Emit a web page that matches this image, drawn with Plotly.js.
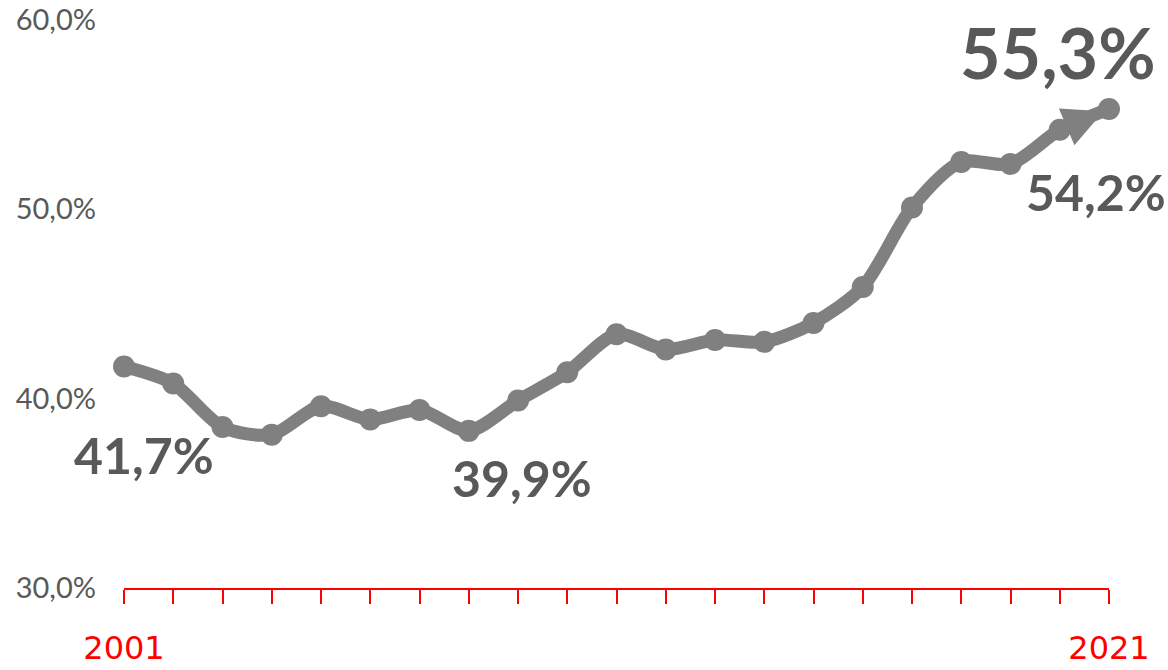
<!DOCTYPE html>
<html>
<head>
<meta charset="utf-8">
<script src="https://cdn.plot.ly/plotly-3.0.1.min.js"></script>
<style>
  html, body { margin: 0; padding: 0; background: #ffffff; }
  #chart { width: 1168px; height: 670px; }
</style>
</head>
<body>
<div id="chart"></div>
<script>
// ---- data ----
var years = [2001, 2002, 2003, 2004, 2005, 2006, 2007, 2008, 2009, 2010,
             2011, 2012, 2013, 2014, 2015, 2016, 2017, 2018, 2019, 2020, 2021];
var values = [41.7, 40.8, 38.5, 38.1, 39.6, 38.9, 39.4, 38.3, 39.9, 41.4,
              43.4, 42.6, 43.1, 43.0, 44.0, 45.9, 50.1, 52.5, 52.4, 54.2, 55.3];
var xTickVals = years;
var xTickText = ['2001', '', '', '', '', '', '', '', '', '', '', '', '', '', '', '', '', '', '', '', '2021'];
var yTickVals = [30, 40, 50, 60];
var yTickText = ['30,0%', '40,0%', '50,0%', '60,0%'];
var labelYears = [2001, 2009, 2020, 2021];
var labelTexts = ['41,7%', '39,9%', '54,2%', '55,3%'];

// ---- styling for labels (positions are offsets from the data point) ----
var labelStyle = [
  {dx: 20, dy: -89, size: 50},
  {dx: 4, dy: -77, size: 50},
  {dx: 36, dy: -62, size: 50},
  {dx: -51, dy: 57, size: 70}
];

var grey = '#808080';
var labelColor = '#595959';

function valueOf(yr) { return values[years.indexOf(yr)]; }

var annotations = labelYears.map(function (yr, i) {
  return {
    x: yr, y: valueOf(yr), xref: 'x', yref: 'y',
    text: '<b>' + labelTexts[i] + '</b>',
    showarrow: false,
    xshift: labelStyle[i].dx, yshift: labelStyle[i].dy,
    font: {family: 'Lato, "Open Sans", sans-serif', size: labelStyle[i].size, color: labelColor}
  };
});

// arrow head pointing to the last value
var n = years.length;
annotations.push({
  x: years[n - 1], y: values[n - 1], xref: 'x', yref: 'y',
  ax: years[n - 2], ay: values[n - 2], axref: 'x', ayref: 'y',
  showarrow: true, arrowhead: 2, arrowsize: 2, arrowwidth: 4,
  arrowcolor: grey, standoff: 6, text: ''
});

var trace = {
  x: years, y: values,
  type: 'scatter', mode: 'lines+markers',
  line: {color: grey, width: 13, shape: 'spline', smoothing: 0.8},
  marker: {color: grey, size: 22},
  cliponaxis: false,
  hoverinfo: 'none'
};

var layout = {
  width: 1168, height: 670,
  margin: {l: 124, r: 59, t: 20, b: 82, pad: 0},
  paper_bgcolor: '#ffffff', plot_bgcolor: '#ffffff',
  showlegend: false,
  xaxis: {
    range: [2001, 2021],
    tickmode: 'array', tickvals: xTickVals, ticktext: xTickText,
    ticks: 'outside', ticklen: 14, tickwidth: 2, tickcolor: '#ff0000',
    showline: true, linecolor: '#ff0000', linewidth: 2,
    showgrid: false, zeroline: false,
    ticklabelstandoff: 17,
    tickfont: {family: '"DejaVu Sans", sans-serif', size: 32, color: '#ff0000'}
  },
  yaxis: {
    range: [30, 60],
    tickmode: 'array', tickvals: yTickVals, ticktext: yTickText,
    ticks: '', showline: false, showgrid: false, zeroline: false,
    ticklabelstandoff: 27,
    tickfont: {family: 'Lato, "Open Sans", sans-serif', size: 29, color: labelColor}
  },
  annotations: annotations
};

Plotly.newPlot('chart', [trace], layout, {displayModeBar: false, staticPlot: true});
</script>
</body>
</html>
